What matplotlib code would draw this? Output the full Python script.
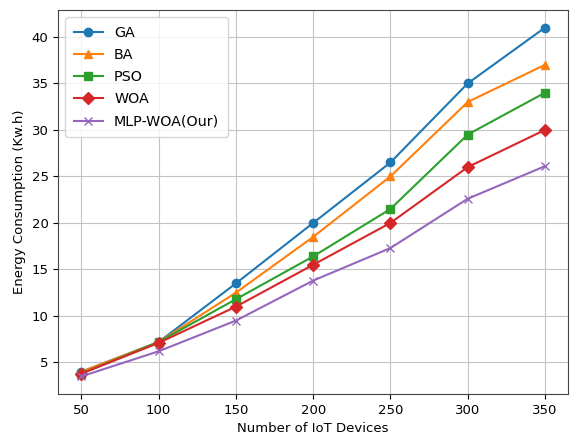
import numpy as np
import matplotlib.pyplot as plt

devices = [50, 100, 150, 200, 250, 300, 350]
ga = [4.0, 7.2, 13.5, 20.0, 26.5, 35.0, 41.0]
ba = [4.0, 7.2, 12.5, 18.5, 25.0, 33.0, 37.0]
pso = [3.8, 7.2, 11.8, 16.4, 21.5, 29.5, 34.0]
woa = [3.8, 7.1, 11.0, 15.5, 20.0, 26.0, 30.0]
mlp_woa = [3.5, 6.2, 9.5, 13.8, 17.3, 22.6, 26.1]

plt.rc('font', family='DejaVu Sans', size=9.5)
fig = plt.figure(figsize=(5.71, 4.42), dpi=100)
ax = fig.add_axes([0.102, 0.109, 0.893, 0.868])

ax.plot(devices, ga, marker='o', label='GA')
ax.plot(devices, ba, marker='^', label='BA')
ax.plot(devices, pso, marker='s', label='PSO')
ax.plot(devices, woa, marker='D', label='WOA')
ax.plot(devices, mlp_woa, marker='x', label='MLP-WOA(Our)')

ax.set_xticks(devices)
ax.set_xlabel('Number of IoT Devices')
ax.set_ylabel('Energy Consumption (Kw.h)')
ax.grid(True, color='#c4c4c4')
for s in ax.spines.values():
    s.set_color('#444444')
ax.legend(loc='upper left', fontsize=10.3, labelspacing=0.57, handlelength=2.0,
          borderpad=0.6)
fig.savefig('out.png', dpi=100)
